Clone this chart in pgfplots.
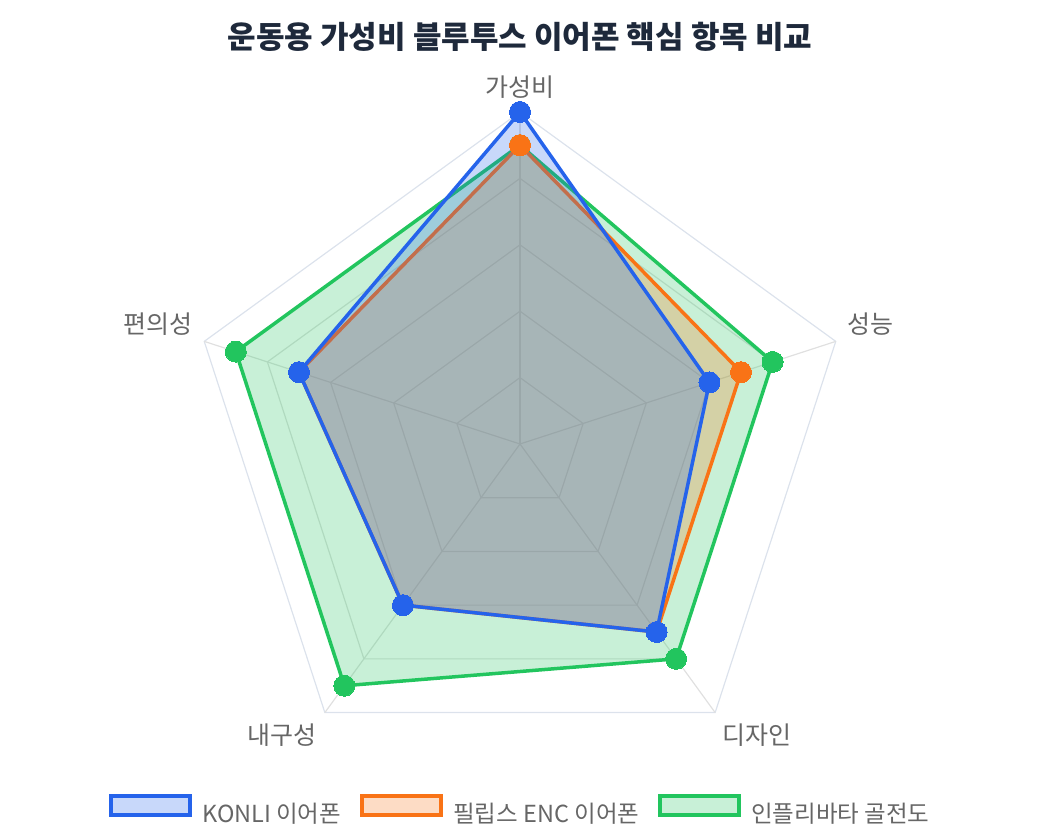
\documentclass[border=0pt]{standalone}
\usepackage{pgfplots}
\pgfplotsset{compat=1.18}
\usepackage{fontspec}
\setmainfont{Noto Sans CJK KR}

\definecolor{cBlue}{HTML}{2563EB}
\definecolor{cOrange}{HTML}{F97316}
\definecolor{cGreen}{HTML}{22C55E}
\definecolor{gridc}{HTML}{E0E0E0}
\definecolor{outerc}{HTML}{DCE2EC}
\definecolor{labelc}{HTML}{666666}
\definecolor{titlec}{HTML}{1E293B}

\begin{document}
\begin{tikzpicture}
\begin{axis}[
  x=33.2pt, y=33.2pt,
  xmin=-15.6627, xmax=15.6627, ymin=-11.9277, ymax=13.3735,
  hide axis, clip=false,
  legend style={at={(0.4995,0.0369)}, anchor=center, draw=none, fill=none,
    legend columns=3, font=\fontsize{23.5}{27}\selectfont, text=labelc,
    nodes={inner sep=0pt},
    /tikz/every odd column/.append style={column sep=10pt},
    /tikz/every even column/.append style={column sep=19pt}},
  legend image code/.code={\draw[#1, mark=none, line width=4pt] (0pt,-2pt) rectangle (79pt,17pt);},
  reverse legend,
  series/.style={draw=#1, line width=3.5pt, fill=#1, fill opacity=0.25,
    mark=*, mark size=10.5pt, mark options={fill=#1, draw=#1, fill opacity=1, line width=0pt},
    data cs=polar},
  ring/.style={draw=gridc, line width=1.2pt, data cs=polar, forget plot},
]
  \path (rel axis cs:0,0) rectangle (rel axis cs:1,1);

  % grid rings (angle, radius)
  \addplot[ring] coordinates {(90,2) (18,2) (-54,2) (-126,2) (162,2) (90,2)};
  \addplot[ring] coordinates {(90,4) (18,4) (-54,4) (-126,4) (162,4) (90,4)};
  \addplot[ring] coordinates {(90,6) (18,6) (-54,6) (-126,6) (162,6) (90,6)};
  \addplot[ring] coordinates {(90,8) (18,8) (-54,8) (-126,8) (162,8) (90,8)};
  \addplot[ring, draw=outerc] coordinates {(90,10) (18,10) (-54,10) (-126,10) (162,10) (90,10)};
  % spokes
  \addplot[ring] coordinates {(90,0) (90,10)};
  \addplot[ring] coordinates {(18,0) (18,10)};
  \addplot[ring] coordinates {(-54,0) (-54,10)};
  \addplot[ring] coordinates {(-126,0) (-126,10)};
  \addplot[ring] coordinates {(162,0) (162,10)};

  % 인플리바타 골전도
  \addplot[series=cGreen] coordinates {(90,9) (18,8) (-54,8) (-126,9) (162,9) (90,9)};
  \addlegendentry{인플리바타 골전도}
  % 필립스 ENC 이어폰
  \addplot[series=cOrange] coordinates {(90,9) (18,7) (-54,7) (-126,6) (162,7) (90,9)};
  \addlegendentry{필립스 ENC 이어폰}
  % KONLI 이어폰
  \addplot[series=cBlue] coordinates {(90,10) (18,6) (-54,7) (-126,6) (162,7) (90,10)};
  \addlegendentry{KONLI 이어폰}

  % axis labels
  \begin{scope}[every node/.style={font=\fontsize{25}{29}\selectfont, text=labelc, inner sep=0pt}]
    \node[anchor=center] at (axis cs:0,10.753) {가성비};
    \node[anchor=west] at (axis cs:9.849,3.614) {성능};
    \node[anchor=west] at (axis cs:6.084,-8.765) {디자인};
    \node[anchor=east] at (axis cs:-6.114,-8.765) {내구성};
    \node[anchor=east] at (axis cs:-9.849,3.614) {편의성};
  \end{scope}

  \node[font=\fontsize{31}{35}\selectfont\bfseries, text=titlec, inner sep=0pt]
    at (axis cs:0,12.259) {운동용 가성비 블루투스 이어폰 핵심 항목 비교};
\end{axis}
\end{tikzpicture}
\end{document}
